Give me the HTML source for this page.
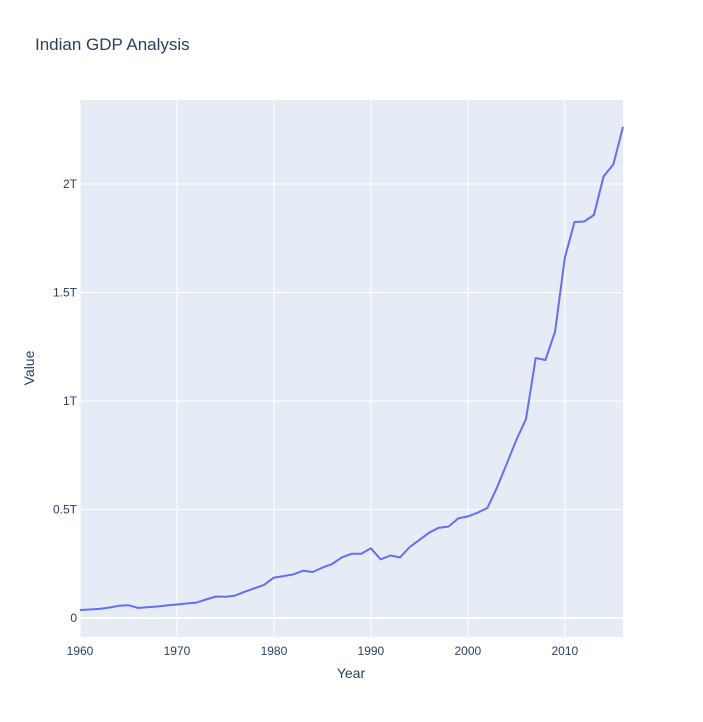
<!DOCTYPE html>
<html><head><meta charset="utf-8"><style>
body{margin:0;background:#fff;font-family:"Liberation Sans",sans-serif}
svg text{font-family:"Liberation Sans",sans-serif}
</style></head><body>
<svg id="chart" width="703" height="717" xmlns="http://www.w3.org/2000/svg">
<rect width="703" height="717" fill="#fff"/>
<text x="35" y="50" font-size="17" fill="#2a3f5f">Indian GDP Analysis</text>
<rect x="80" y="100" width="543" height="537" fill="#e5ecf6"/>
<g id="grid"></g>
<g id="ticks"></g>
<path id="line" fill="none" stroke="#636efa" stroke-width="2" stroke-linejoin="round"/>
<text x="351" y="678" font-size="14" fill="#2a3f5f" text-anchor="middle">Year</text>
<text x="34" y="368" font-size="14" fill="#2a3f5f" text-anchor="middle" transform="rotate(-90 34 368)">Value</text>
</svg>
<script>
const years = [];
for (let y = 1960; y <= 2016; y++) years.push(y);
const gdpT = [0.037,0.039,0.042,0.048,0.056,0.059,0.046,0.050,0.053,0.058,0.062,0.067,0.071,0.085,0.099,0.098,0.103,0.121,0.137,0.153,0.186,0.193,0.201,0.218,0.212,0.232,0.249,0.279,0.296,0.296,0.321,0.270,0.288,0.279,0.327,0.360,0.393,0.416,0.421,0.459,0.468,0.485,0.507,0.600,0.709,0.820,0.917,1.198,1.189,1.320,1.660,1.825,1.827,1.857,2.035,2.090,2.263];
const xTicks = [1960,1970,1980,1990,2000,2010];
const yTicks = [0,0.5,1,1.5,2];
const yTickLabels = ["0","0.5T","1T","1.5T","2T"];

const X0=80,X1=623,Y0=637,Y1=100;
const xMin=1960,xMax=2016,yMin=-0.0876,yMax=2.387;
const sx=v=>X0+(v-xMin)/(xMax-xMin)*(X1-X0);
const sy=v=>Y0-(v-yMin)/(yMax-yMin)*(Y0-Y1);
const NS="http://www.w3.org/2000/svg";
const grid=document.getElementById('grid'),ticks=document.getElementById('ticks');
function mk(tag,attrs,parent){const e=document.createElementNS(NS,tag);for(const k in attrs)e.setAttribute(k,attrs[k]);parent.appendChild(e);return e;}
xTicks.forEach(t=>{
  const l=mk('line',{x1:sx(t),x2:sx(t),y1:Y1,y2:Y0,stroke:'#fff','stroke-width':1},grid);
  
  
  const tx=mk('text',{x:sx(t),y:Y0+18,'font-size':12,fill:'#2a3f5f','text-anchor':'middle'},ticks);
  tx.textContent=t;
  
  
});
yTicks.forEach((t,i)=>{
  const l=mk('line',{x1:X0,x2:X1,y1:sy(t),y2:sy(t),stroke:'#fff','stroke-width':t===0?2:1},grid);
  
  
  const tx=mk('text',{x:X0-3,y:sy(t)+4,'font-size':12,fill:'#2a3f5f','text-anchor':'end'},ticks);
  tx.textContent=yTickLabels[i];
  
  
});
document.getElementById('line').setAttribute('d',years.map((y,i)=>(i?'L':'M')+sx(y).toFixed(1)+','+sy(gdpT[i]).toFixed(1)).join(''));
</script>
</body></html>
